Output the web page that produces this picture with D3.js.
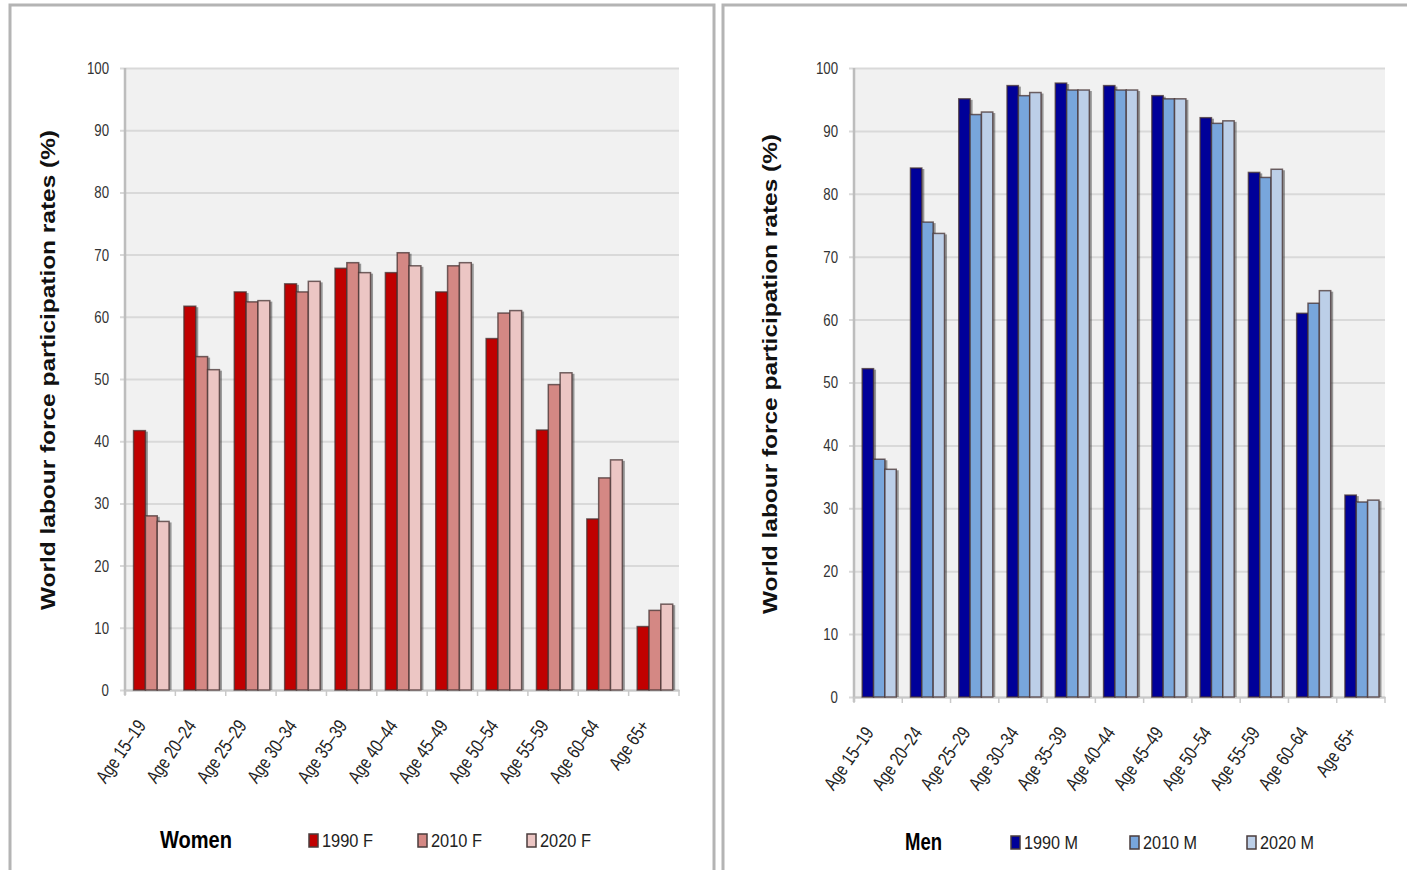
<!DOCTYPE html>
<html>
<head>
<meta charset="utf-8">
<script src="https://cdn.jsdelivr.net/npm/d3@7"></script>
<style>
  html, body { margin: 0; padding: 0; background: #fff; }
  svg { display: block; }
  text { font-family: "Liberation Sans", Arial, sans-serif; }
</style>
</head>
<body>
<svg id="chart" width="1407" height="870"></svg>
<script>
// Age groups on the category axis
const ageGroups = ["Age 15–19", "Age 20–24", "Age 25–29", "Age 30–34", "Age 35–39",
  "Age 40–44", "Age 45–49", "Age 50–54", "Age 55–59", "Age 60–64", "Age 65+"];

// Labour force participation rates (%), women
const women1990 = [41.7, 61.7, 64.0, 65.3, 67.8, 67.1, 64.0, 56.5, 41.8, 27.5, 10.2];
const women2010 = [28.0, 53.6, 62.4, 64.0, 68.7, 70.3, 68.2, 60.6, 49.1, 34.1, 12.8];
const women2020 = [27.1, 51.5, 62.6, 65.7, 67.1, 68.2, 68.7, 61.0, 51.0, 37.0, 13.8];

// Labour force participation rates (%), men
const men1990 = [52.2, 84.1, 95.1, 97.2, 97.6, 97.2, 95.6, 92.1, 83.4, 61.0, 32.1];
const men2010 = [37.8, 75.5, 92.6, 95.6, 96.5, 96.5, 95.1, 91.2, 82.6, 62.6, 31.0];
const men2020 = [36.2, 73.7, 93.0, 96.1, 96.5, 96.5, 95.1, 91.6, 83.9, 64.6, 31.3];

const yTicks = [0, 10, 20, 30, 40, 50, 60, 70, 80, 90, 100];
const womenSeries = ["1990 F", "2010 F", "2020 F"];
const menSeries = ["1990 M", "2010 M", "2020 M"];
const womenColors = ["#c00000", "#d48884", "#ecc6c4"];
const menColors = ["#000099", "#78a6dc", "#bccfe8"];

// horizontal squeeze giving the narrow typeface look
const SQ = 0.78;

const svg = d3.select("#chart");

// Panel frames
function frame(x, y, w, h) {
  svg.append("rect").attr("x", x).attr("y", y).attr("width", w).attr("height", h)
    .attr("fill", "#fff").attr("stroke", "#b4b4b4").attr("stroke-width", 3);
}
frame(10, 5, 704, 880);
frame(723, 5, 700, 880);

function drawPanel(p) {
  const g = svg.append("g");
  const y = d3.scaleLinear().domain([0, 100]).range([p.bottom, p.top]);
  const x = d3.scaleBand().domain(ageGroups).range([p.left, p.right]);
  const bw = x.bandwidth();
  const barW = bw * 0.235;
  const offset = bw * 0.17;

  // plot background
  g.append("rect").attr("x", p.left).attr("y", p.top)
    .attr("width", p.right - p.left).attr("height", p.bottom - p.top)
    .attr("fill", "#f1f1f1");

  // horizontal gridlines + y axis
  const yAxis = d3.axisLeft(y).tickValues(yTicks).tickSize(-(p.right - p.left));
  const ya = g.append("g").attr("transform", `translate(${p.left},0)`).call(yAxis);
  ya.select(".domain").remove();
  ya.selectAll(".tick line").attr("stroke", "#d9d9d9").attr("stroke-width", 2).attr("x1", -5);
  ya.selectAll(".tick text")
    .attr("x", -16 / SQ)
    .attr("transform", `scale(${SQ},1)`)
    .attr("fill", "#333").style("font-size", "17px");

  // vertical axis line
  g.append("line").attr("x1", p.left).attr("x2", p.left).attr("y1", p.top).attr("y2", p.bottom + 5)
    .attr("stroke", "#bdbdbd").attr("stroke-width", 2.5);

  // category axis
  const xAxis = d3.axisBottom(x).tickSize(0).tickFormat("");
  const xa = g.append("g").attr("transform", `translate(0,${p.bottom})`).call(xAxis);
  xa.select(".domain").attr("stroke", "#c8c8c8").attr("stroke-width", 2);
  const bounds = ageGroups.map(d => x(d)).concat([p.right]);
  g.selectAll(".xtick").data(bounds).join("line")
    .attr("x1", d => d).attr("x2", d => d)
    .attr("y1", p.bottom).attr("y2", p.bottom + 6)
    .attr("stroke", "#c8c8c8").attr("stroke-width", 1.5);

  // category labels, rotated
  g.selectAll(".xlab").data(ageGroups).join("text")
    .attr("transform", d => `translate(${x(d) + bw / 2 - 9},${p.bottom + 32}) rotate(-55) scale(${SQ},1)`)
    .attr("text-anchor", "end")
    .attr("dy", "0.35em")
    .attr("fill", "#222")
    .style("font-size", "19px")
    .text(d => d);

  // bars with a soft drop shadow
  p.series.forEach((vals, si) => {
    const bx = d => x(ageGroups[d]) + offset + si * barW;
    g.selectAll(null).data(vals.map((v, i) => ({ v, i }))).join("rect")
      .attr("x", d => bx(d.i) + 2.5)
      .attr("y", d => y(d.v) + 1)
      .attr("width", barW)
      .attr("height", d => p.bottom - y(d.v) - 1)
      .attr("fill", "rgba(60,60,60,0.5)");
    g.selectAll(null).data(vals.map((v, i) => ({ v, i }))).join("rect")
      .attr("x", d => bx(d.i))
      .attr("y", d => y(d.v))
      .attr("width", barW)
      .attr("height", d => p.bottom - y(d.v))
      .attr("fill", p.colors[si])
      .attr("stroke", "rgba(70,50,50,0.75)")
      .attr("stroke-width", 1.5);
  });

  // vertical axis title
  g.append("text")
    .attr("transform", `translate(${p.titleX},${(p.titleTop + p.titleBottom) / 2}) rotate(-90)`)
    .attr("text-anchor", "middle")
    .attr("dy", "0.35em")
    .attr("textLength", p.titleBottom - p.titleTop)
    .attr("lengthAdjust", "spacingAndGlyphs")
    .attr("fill", "#111")
    .style("font-size", "21px")
    .style("font-weight", "bold")
    .text("World labour force participation rates (%)");

  // legend
  const lg = g.append("g");
  lg.append("text").attr("x", p.legend.titleX).attr("y", p.legend.y).attr("dy", "0.35em")
    .attr("textLength", p.legend.titleW).attr("lengthAdjust", "spacingAndGlyphs")
    .attr("fill", "#000").style("font-size", "24px").style("font-weight", "bold")
    .text(p.legend.title);
  p.legend.items.forEach((name, i) => {
    const lx = p.legend.itemX[i];
    lg.append("rect").attr("x", lx).attr("y", p.legend.y - 6).attr("width", 9).attr("height", 13)
      .attr("fill", p.colors[i]).attr("stroke", "#4a3c3c").attr("stroke-width", 1.5);
    lg.append("text").attr("x", lx + 13).attr("y", p.legend.y).attr("dy", "0.35em")
      .attr("textLength", p.legend.itemW).attr("lengthAdjust", "spacingAndGlyphs")
      .attr("fill", "#222").style("font-size", "19px").text(name);
  });
}

drawPanel({
  left: 125, right: 679, top: 68, bottom: 690,
  series: [women1990, women2010, women2020],
  colors: womenColors,
  titleX: 48, titleTop: 130, titleBottom: 610,
  legend: { title: "Women", titleX: 160, titleW: 72, y: 840, items: womenSeries, itemX: [309, 418, 527], itemW: 51 }
});

drawPanel({
  left: 854, right: 1385, top: 68, bottom: 697,
  series: [men1990, men2010, men2020],
  colors: menColors,
  titleX: 770, titleTop: 134, titleBottom: 614,
  legend: { title: "Men", titleX: 905, titleW: 37, y: 842, items: menSeries, itemX: [1011, 1130, 1247], itemW: 54 }
});
</script>
</body>
</html>
